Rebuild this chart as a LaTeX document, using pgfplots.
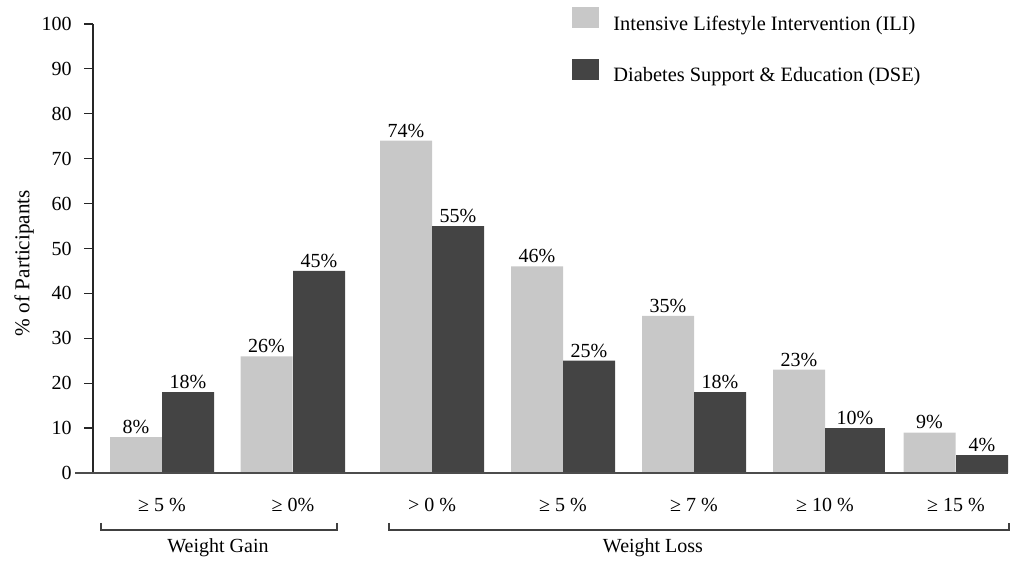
\documentclass[border=0pt]{standalone}
\usepackage{fontspec}
\setmainfont{Liberation Serif}
\usepackage{pgfplots}
\pgfplotsset{compat=1.18}
\definecolor{iligray}{RGB}{200,200,200}
\definecolor{dsegray}{RGB}{68,68,68}
\pgfplotsset{
  swatch legend/.style={
    legend image code/.code={\fill[##1] (0pt,-2pt) rectangle (13.5pt,8.5pt);}},
}
\begin{document}
\begin{tikzpicture}
\path[use as bounding box] (0,0) rectangle (507pt,281pt);
\begin{axis}[
  at={(46.5pt,44.5pt)}, anchor=south west,
  scale only axis, width=458.5pt, height=224.5pt,
  xmin=93, xmax=1010, ymin=0, ymax=100,
  clip=false,
  axis lines*=left,
  x axis line style={draw=none},
  y axis line style={-, line width=0.75pt, black!85},
  tick align=outside,
  major tick length=4.5pt,
  ytick={0,10,...,100},
  ytick style={line width=0.6pt, black!85},
  yticklabel style={font=\normalsize, /pgf/number format/assume math mode=true, inner sep=0pt, xshift=-6pt},
  xtick={162,293,432,563,694,825,956},
  xticklabels={≥ 5 \%, ≥ 0\%, > 0 \%, ≥ 5 \%, ≥ 7 \%, ≥ 10 \%, ≥ 15 \%},
  xtick style={draw=none},
  xticklabel style={anchor=north, inner sep=0pt, yshift=-8pt},
  every axis y label/.style={at={(rel axis cs:-0.0752,0.4677)}, rotate=90, anchor=center,
    font=\fontsize{10.6pt}{12.7pt}\selectfont},
  ylabel={\% of Participants},
  nodes near coords={\pgfmathprintnumber[assume math mode=true]{\pgfplotspointmeta}\%},
  every node near coord/.append style={anchor=south, inner sep=1.5pt, font=\normalsize},
  legend style={at={(rel axis cs:0.5224,1.038)}, anchor=north west,
    draw=none, fill=none, inner sep=0pt, row sep=13pt, column sep=7pt,
    nodes={inner sep=0pt}, font=\fontsize{10.2pt}{12.2pt}\selectfont},
  legend cell align=left,
]
% Intensive Lifestyle Intervention
\addplot[ybar, bar width=52, fill=iligray, draw=none, swatch legend]
  coordinates {(136,8) (266.5,26) (406,74) (537,46) (668,35) (799,23) (929.5,9)};
\addlegendentry{Intensive Lifestyle Intervention (ILI)}
% Diabetes Support & Education
\addplot[ybar, bar width=52, fill=dsegray, draw=none, swatch legend]
  coordinates {(188,18) (319,45) (458,55) (589,25) (720,18) (982,4)};
\addlegendentry{Diabetes Support \& Education (DSE)}
\addplot[ybar, bar width=60, fill=dsegray, draw=none, forget plot]
  coordinates {(855,10)};
% baseline
\draw[line width=1pt, black!70] (axis cs:75,0) -- (axis cs:1008,0);
% group brackets
\draw[line width=0.6pt, black!75] (axis cs:101,-11.1) -- (axis cs:101,-12.7) -- (axis cs:337,-12.7) -- (axis cs:337,-11.1);
\draw[line width=0.6pt, black!75] (axis cs:389,-11.1) -- (axis cs:389,-12.7) -- (axis cs:1009,-12.7) -- (axis cs:1009,-11.1);
\node[anchor=base] at (axis cs:218,-17.8) {Weight Gain};
\node[anchor=base] at (axis cs:653,-17.8) {Weight Loss};
\end{axis}
\end{tikzpicture}
\end{document}
